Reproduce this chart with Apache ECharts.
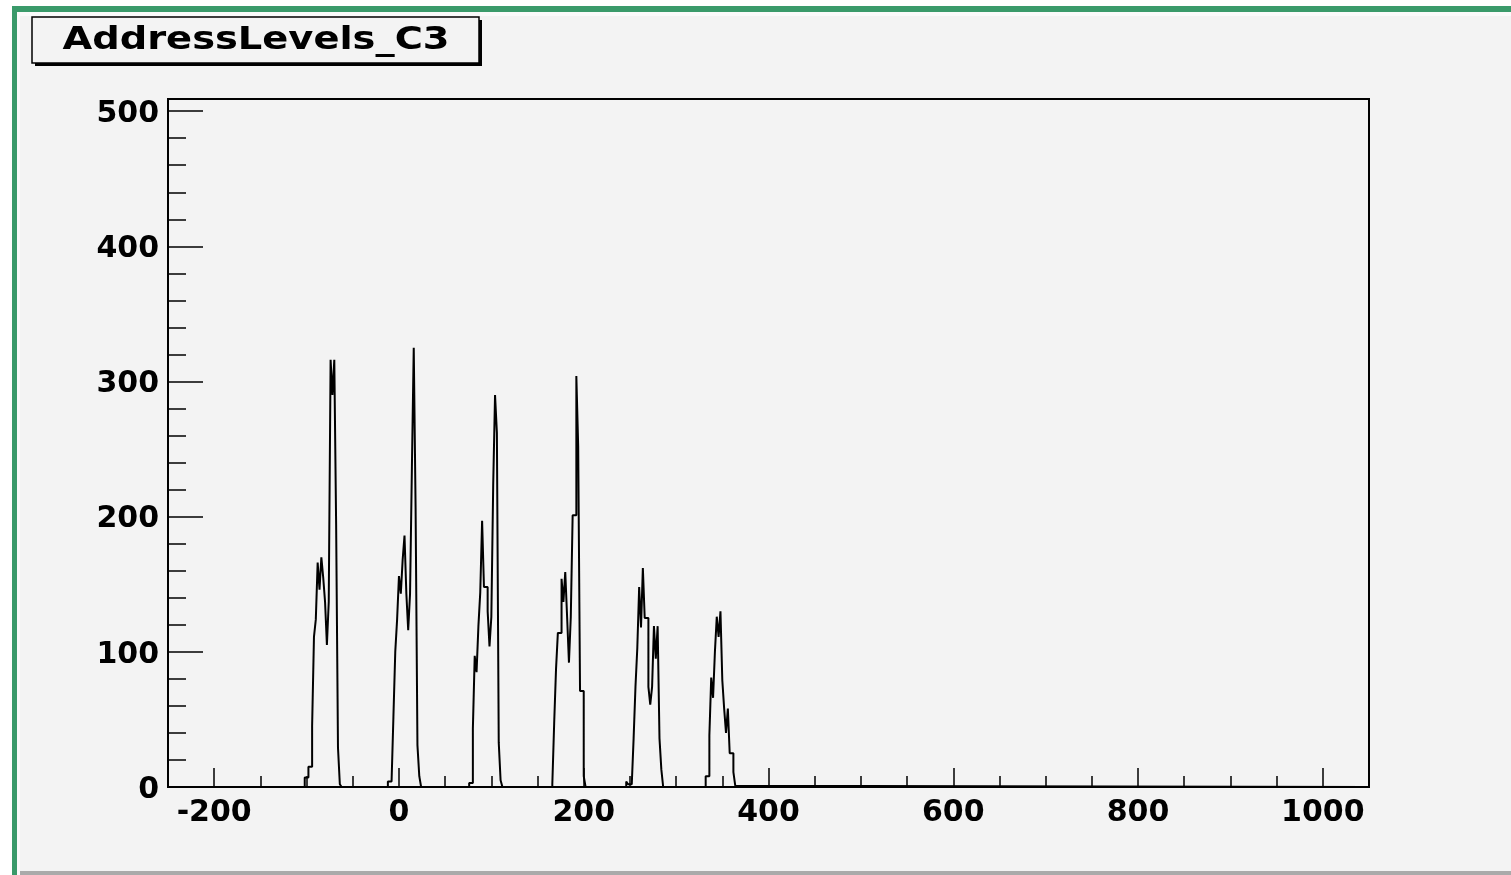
<!DOCTYPE html>
<html>
<head>
<meta charset="utf-8">
<title>AddressLevels_C3</title>
<script src="https://cdn.jsdelivr.net/npm/echarts@6/dist/echarts.min.js"></script>
<style>
  html, body { margin: 0; padding: 0; background: #fff; overflow: hidden; }
  #frame { position: absolute; left: 12px; top: 6px; width: 1499px; height: 869px;
           border-top: 6px solid #3a9a6a; border-left: 5px solid #3a9a6a;
           box-sizing: border-box; background: #fafafa; }
  #paper { position: absolute; left: 20px; top: 16px; right: 0; bottom: 4px; background: #f3f3f3; }
  #shade { position: absolute; left: 20px; right: 0; bottom: 0; height: 4px; background: #aaa; }
  #chart { position: absolute; left: 0; top: 0; width: 1511px; height: 875px; }
</style>
</head>
<body>
<div id="frame"></div>
<div id="paper"></div>
<div id="shade"></div>
<div id="chart"></div>
<script>
// axis ranges and labelled ticks
const xMin = -250, xMax = 1050;
const yMin = 0, yMax = 509;
const xLabels = [-200, 0, 200, 400, 600, 800, 1000];
const yLabels = [0, 100, 200, 300, 400, 500];

// histogram bins (width 2), one array per peak
const binWidth = 2;
const peakStarts = [-102, -12, 76, 166, 246, 332];
const peak1 = [7, 7, 15, 15, 45, 111, 124, 166, 146, 170, 155, 137, 105, 137, 316, 290, 316, 194, 29, 2];
const peak2 = [4, 4, 4, 52, 100, 124, 156, 143, 168, 186, 143, 116, 143, 236, 325, 207, 31, 8];
const peak3 = [3, 3, 43, 97, 85, 119, 144, 197, 148, 148, 130, 104, 126, 223, 290, 262, 33, 5];
const peak4 = [2, 47, 87, 114, 114, 154, 137, 159, 126, 92, 126, 201, 201, 304, 252, 71, 71, 8];
const peak5 = [4, 2, 2, 2, 36, 74, 103, 148, 118, 162, 125, 125, 74, 61, 74, 119, 95, 119, 36, 13];
const peak6 = [8, 8, 38, 81, 66, 100, 126, 111, 130, 79, 58, 40, 58, 25, 25, 11, 1];

const peaks = [peak1, peak2, peak3, peak4, peak5, peak6];
const histData = [[xMin, 0]];
peaks.forEach((p, k) => {
  p.forEach((v, i) => histData.push([peakStarts[k] + i * binWidth, v]));
  histData.push([peakStarts[k] + p.length * binWidth, 0]);
});
histData.push([xMax, 0]);

const labelFont = {
  color: '#000',
  fontFamily: 'DejaVu Sans',
  fontWeight: 'bold',
  fontSize: 30
};
const tickLine = { color: '#000', width: 1.5 };

const chart = echarts.init(document.getElementById('chart'));

chart.setOption({
  animation: false,
  grid: {
    left: 168, top: 99, width: 1201, height: 688,
    show: true, borderColor: '#000', borderWidth: 2,
    backgroundColor: 'transparent'
  },
  xAxis: [
    {
      type: 'value', min: xMin, max: xMax, interval: 50, position: 'bottom',
      axisLine: { show: false, onZero: false },
      splitLine: { show: false },
      axisTick: { inside: true, length: 11, lineStyle: tickLine },
      axisLabel: Object.assign({ customValues: xLabels, margin: 11, formatter: v => String(v) }, labelFont)
    },
    {
      type: 'value', min: xMin, max: xMax, position: 'bottom', offset: 0,
      axisLine: { show: false, onZero: false },
      splitLine: { show: false },
      axisTick: { inside: true, length: 19, customValues: xLabels, lineStyle: tickLine },
      axisLabel: { show: false }
    }
  ],
  yAxis: [
    {
      type: 'value', min: yMin, max: yMax, interval: 20, position: 'left',
      axisLine: { show: false, onZero: false },
      splitLine: { show: false },
      axisTick: { inside: true, length: 18, lineStyle: tickLine },
      axisLabel: Object.assign({
        customValues: yLabels, margin: 9,
        formatter: v => '{n|' + v + '}',
        rich: { n: Object.assign({ padding: [6, 0, 0, 0] }, labelFont) }
      }, labelFont)
    },
    {
      type: 'value', min: yMin, max: yMax, position: 'left', offset: 0,
      axisLine: { show: false, onZero: false },
      splitLine: { show: false },
      axisTick: { inside: true, length: 35, customValues: yLabels, lineStyle: tickLine },
      axisLabel: { show: false }
    }
  ],
  series: [{
    name: 'AddressLevels_C3',
    type: 'line',
    step: 'end',
    showSymbol: false,
    clip: true,
    data: histData,
    lineStyle: { color: '#000', width: 2 }
  }],
  graphic: [
    { type: 'rect', shape: { x: 35, y: 20, width: 447, height: 46 }, style: { fill: '#000' } },
    { type: 'rect', shape: { x: 32, y: 17, width: 447, height: 46 },
      style: { fill: '#f3f3f3', stroke: '#000', lineWidth: 1.5 } },
    { type: 'text', x: 256, y: 41, scaleX: 1.2,
      style: { text: 'AddressLevels_C3', font: 'bold 32px "DejaVu Sans"',
               textAlign: 'center', textVerticalAlign: 'middle', fill: '#000' } }
  ]
});
</script>
</body>
</html>
